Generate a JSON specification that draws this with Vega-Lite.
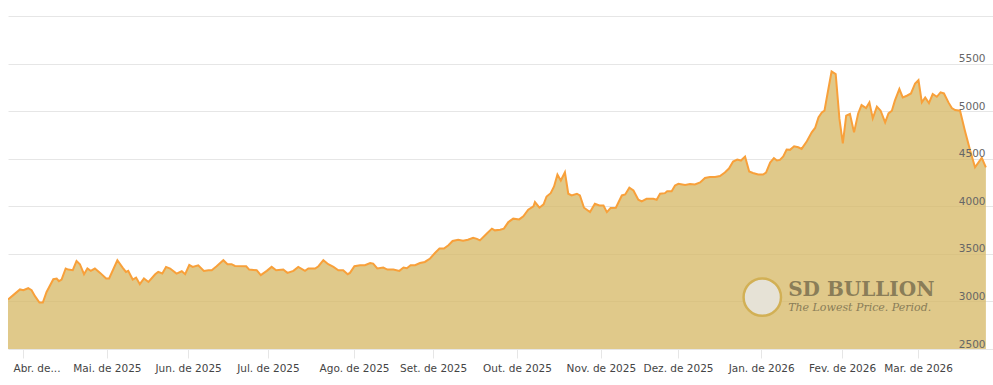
{
  "$schema": "https://vega.github.io/schema/vega-lite/v6.json",
  "width": 985,
  "height": 333,
  "autosize": {"type": "none"},
  "padding": {"left": 8, "top": 16, "right": 0, "bottom": 36},
  "background": "white",
  "config": {"view": {"stroke": null}},
  "datasets": {
    "gold": [
      {"t":0,"p":3021},{"t":1.4,"p":3066},{"t":3.2,"p":3126},{"t":4.1,"p":3118},{"t":5.4,"p":3139},{"t":6.3,"p":3118},{"t":7.2,"p":3055},{"t":8.4,"p":2989},{"t":9.3,"p":2989},{"t":10.3,"p":3100},
      {"t":12.1,"p":3234},{"t":13.0,"p":3241},{"t":13.6,"p":3213},{"t":14.3,"p":3230},{"t":15.4,"p":3346},{"t":16.1,"p":3335},{"t":17.3,"p":3328},{"t":18.3,"p":3425},{"t":19.2,"p":3391},{"t":20.3,"p":3286},
      {"t":21.2,"p":3346},{"t":22.1,"p":3321},{"t":23.2,"p":3346},{"t":24.6,"p":3300},{"t":26.2,"p":3241},{"t":27.0,"p":3241},{"t":29.2,"p":3433},{"t":30.6,"p":3356},{"t":31.5,"p":3310},{"t":32.1,"p":3321},
      {"t":33.3,"p":3230},{"t":34.2,"p":3251},{"t":35.2,"p":3181},{"t":36.3,"p":3241},{"t":37.5,"p":3205},{"t":39.3,"p":3286},{"t":40.1,"p":3310},{"t":41.2,"p":3293},{"t":42.2,"p":3363},{"t":43.3,"p":3346},
      {"t":45.0,"p":3293},{"t":46.4,"p":3317},{"t":47.3,"p":3286},{"t":48.4,"p":3383},{"t":49.3,"p":3363},{"t":50.8,"p":3380},{"t":52.3,"p":3321},{"t":53.5,"p":3328},{"t":54.4,"p":3328},{"t":55.7,"p":3370},
      {"t":57.5,"p":3433},{"t":58.6,"p":3391},{"t":59.7,"p":3391},{"t":60.6,"p":3373},{"t":63.6,"p":3370},{"t":64.4,"p":3335},{"t":66.4,"p":3328},{"t":67.5,"p":3276},{"t":69.1,"p":3321},{"t":70.4,"p":3363},
      {"t":71.6,"p":3328},{"t":73.5,"p":3335},{"t":74.6,"p":3300},{"t":76.2,"p":3321},{"t":77.5,"p":3363},{"t":79.3,"p":3321},{"t":80.2,"p":3346},{"t":82.0,"p":3346},{"t":82.9,"p":3370},{"t":84.2,"p":3433},
      {"t":85.5,"p":3391},{"t":86.9,"p":3363},{"t":88.2,"p":3328},{"t":89.5,"p":3328},{"t":90.7,"p":3286},{"t":91.3,"p":3300},{"t":92.5,"p":3370},{"t":94.0,"p":3380},{"t":95.3,"p":3380},{"t":96.7,"p":3404},
      {"t":97.5,"p":3398},{"t":98.6,"p":3346},{"t":100.2,"p":3356},{"t":101.3,"p":3335},{"t":102.9,"p":3335},{"t":104.5,"p":3321},{"t":105.6,"p":3356},{"t":106.5,"p":3349},{"t":107.5,"p":3380},{"t":108.7,"p":3380},
      {"t":110.0,"p":3404},{"t":111.3,"p":3415},{"t":112.7,"p":3451},{"t":114.0,"p":3509},{"t":115.2,"p":3555},{"t":116.4,"p":3555},{"t":117.6,"p":3590},{"t":118.7,"p":3635},{"t":120.2,"p":3648},{"t":121.5,"p":3637},
      {"t":122.8,"p":3648},{"t":124.2,"p":3669},{"t":125.2,"p":3658},{"t":126.0,"p":3642},{"t":127.8,"p":3712},{"t":129.2,"p":3765},{"t":130.0,"p":3747},{"t":131.4,"p":3754},{"t":132.4,"p":3765},{"t":133.6,"p":3834},
      {"t":134.9,"p":3870},{"t":136.5,"p":3862},{"t":137.6,"p":3894},{"t":138.9,"p":3964},{"t":140.3,"p":3999},{"t":140.7,"p":4044},{"t":141.9,"p":3985},{"t":143.0,"p":4020},{"t":143.8,"p":4103},{"t":144.9,"p":4138},
      {"t":145.8,"p":4208},{"t":146.7,"p":4334},{"t":147.6,"p":4271},{"t":148.7,"p":4358},{"t":149.6,"p":4132},{"t":150.5,"p":4114},{"t":151.9,"p":4132},{"t":152.7,"p":4114},{"t":153.8,"p":3985},{"t":155.4,"p":3939},
      {"t":156.7,"p":4027},{"t":157.9,"p":4009},{"t":159.0,"p":4009},{"t":159.9,"p":3939},{"t":160.9,"p":3981},{"t":162.3,"p":3985},{"t":163.9,"p":4114},{"t":164.8,"p":4124},{"t":165.9,"p":4195},{"t":167.0,"p":4166},
      {"t":168.3,"p":4069},{"t":169.2,"p":4051},{"t":170.5,"p":4079},{"t":172.3,"p":4079},{"t":173.2,"p":4069},{"t":174.1,"p":4132},{"t":175.4,"p":4138},{"t":176.0,"p":4159},{"t":177.2,"p":4159},{"t":178.1,"p":4219},
      {"t":179.0,"p":4237},{"t":180.8,"p":4224},{"t":182.1,"p":4234},{"t":183.4,"p":4229},{"t":184.8,"p":4250},{"t":186.1,"p":4297},{"t":187.4,"p":4308},{"t":188.8,"p":4308},{"t":190.1,"p":4318},{"t":191.4,"p":4355},
      {"t":192.5,"p":4397},{"t":193.6,"p":4470},{"t":194.7,"p":4491},{"t":195.7,"p":4481},{"t":196.8,"p":4523},{"t":197.9,"p":4365},{"t":198.9,"p":4350},{"t":200.3,"p":4334},{"t":201.6,"p":4334},{"t":202.4,"p":4355},
      {"t":203.5,"p":4460},{"t":204.5,"p":4507},{"t":205.3,"p":4481},{"t":206.1,"p":4488},{"t":207.0,"p":4523},{"t":207.9,"p":4596},{"t":208.8,"p":4593},{"t":209.9,"p":4631},{"t":211.0,"p":4620},{"t":211.9,"p":4603},
      {"t":213.3,"p":4683},{"t":214.6,"p":4777},{"t":215.5,"p":4823},{"t":216.4,"p":4935},{"t":217.3,"p":4987},{"t":218.0,"p":5005},{"t":218.8,"p":5180},{"t":219.9,"p":5417},{"t":221.0,"p":5389},{"t":222.0,"p":4918},
      {"t":222.9,"p":4662},{"t":223.8,"p":4952},{"t":224.8,"p":4970},{"t":225.9,"p":4777},{"t":227.0,"p":4976},{"t":227.9,"p":5064},{"t":229.1,"p":5033},{"t":230.0,"p":5092},{"t":230.9,"p":4924},{"t":232.0,"p":5047},
      {"t":233.0,"p":5005},{"t":234.2,"p":4882},{"t":235.1,"p":4976},{"t":236.0,"p":5005},{"t":236.8,"p":5110},{"t":238.0,"p":5232},{"t":238.9,"p":5144},{"t":240.0,"p":5162},{"t":241.1,"p":5186},{"t":242.2,"p":5291},
      {"t":243.1,"p":5326},{"t":244.0,"p":5092},{"t":244.9,"p":5144},{"t":245.9,"p":5085},{"t":246.9,"p":5180},{"t":248.0,"p":5151},{"t":249.0,"p":5197},{"t":249.9,"p":5186},{"t":251.1,"p":5092},{"t":252.0,"p":5033},
      {"t":252.9,"p":5012},{"t":254.2,"p":5005},{"t":255.5,"p":4795},{"t":256.9,"p":4586},{"t":258.2,"p":4410},{"t":260.0,"p":4509},{"t":261.1,"p":4410}
    ]
  },
  "layer": [
    {
      "data": {"name": "gold"},
      "mark": {"type": "area", "fill": "#d6b763", "fillOpacity": 0.75, "clip": true},
      "encoding": {
        "x": {
          "field": "t", "type": "quantitative",
          "scale": {"domain": [0, 263], "nice": false, "zero": false},
          "axis": {
            "title": null, "grid": false, "domain": false,
            "values": [4, 26.4, 48.1, 69.4, 92.4, 113.5, 135.9, 158.3, 178.9, 201.1, 222.7, 243],
            "labelExpr": "['Abr. de...','Mai. de 2025','Jun. de 2025','Jul. de 2025','Ago. de 2025','Set. de 2025','Out. de 2025','Nov. de 2025','Dez. de 2025','Jan. de 2026','Fev. de 2026','Mar. de 2026'][indexof([4,26.4,48.1,69.4,92.4,113.5,135.9,158.3,178.9,201.1,222.7,243], datum.value)]",
            "ticks": true, "tickColor": "#e6e6e6", "tickSize": 9, "labelPadding": 5,
            "labelFont": "DejaVu Sans", "labelFontSize": 10.5, "labelColor": "#444444",
            "labelFlush": 20, "labelFlushOffset": 10, "labelOverlap": false
          }
        },
        "y": {
          "field": "p", "type": "quantitative",
          "scale": {"domain": [2500, 6000], "nice": false, "zero": false},
          "axis": {
            "orient": "right", "title": null, "values": [2500, 3000, 3500, 4000, 4500, 5000, 5500, 6000],
            "grid": true, "gridColor": "#e6e6e6", "labels": false, "ticks": false, "tickSize": 0, "domain": false, "zindex": 0
          }
        },
        "y2": {"datum": 2500}
      }
    },
    {
      "data": {"name": "gold"},
      "mark": {"type": "line", "color": "#f8a03a", "strokeWidth": 2, "clip": true},
      "encoding": {
        "x": {"field": "t", "type": "quantitative", "scale": {"domain": [0, 263], "nice": false, "zero": false}},
        "y": {
          "field": "p", "type": "quantitative",
          "scale": {"domain": [2500, 6000], "nice": false, "zero": false},
          "axis": {
            "orient": "right", "title": null, "values": [2500, 3000, 3500, 4000, 4500, 5000, 5500],
            "format": "d",
            "grid": false, "ticks": false, "tickSize": 0, "domain": false, "zindex": 1,
            "labelAlign": "right", "labelBaseline": "alphabetic", "labelPadding": -8, "labelOffset": -2,
            "labelFont": "DejaVu Sans", "labelFontSize": 10.5, "labelColor": "#666666"
          }
        }
      }
    },
    {
      "data": {"values": [{"t": 201.4, "p": 3045}]},
      "mark": {"type": "point", "shape": "circle", "filled": true, "size": 1400, "fill": "#e6e2d6", "stroke": "#d2b055", "strokeWidth": 2.5, "opacity": 1},
      "encoding": {
        "x": {"field": "t", "type": "quantitative", "scale": {"domain": [0, 263], "nice": false, "zero": false}},
        "y": {"field": "p", "type": "quantitative", "scale": {"domain": [2500, 6000], "nice": false, "zero": false}, "axis": null}
      }
    },
    {
      "data": {"values": [{"t": 208.3, "p": 3118, "label": "SD BULLION"}]},
      "mark": {"type": "text", "align": "left", "baseline": "middle", "font": "DejaVu Serif", "fontWeight": "bold", "fontSize": 20, "color": "#8a7d58"},
      "encoding": {
        "x": {"field": "t", "type": "quantitative", "scale": {"domain": [0, 263], "nice": false, "zero": false}},
        "y": {"field": "p", "type": "quantitative", "scale": {"domain": [2500, 6000], "nice": false, "zero": false}, "axis": null},
        "text": {"field": "label"}
      }
    },
    {
      "data": {"values": [{"t": 208.3, "p": 2935, "label": "The Lowest Price. Period."}]},
      "mark": {"type": "text", "align": "left", "baseline": "middle", "font": "DejaVu Serif", "fontStyle": "italic", "fontSize": 11, "color": "#8a7d58"},
      "encoding": {
        "x": {"field": "t", "type": "quantitative", "scale": {"domain": [0, 263], "nice": false, "zero": false}},
        "y": {"field": "p", "type": "quantitative", "scale": {"domain": [2500, 6000], "nice": false, "zero": false}, "axis": null},
        "text": {"field": "label"}
      }
    }
  ],
  "resolve": {"axis": {"y": "independent"}}
}
